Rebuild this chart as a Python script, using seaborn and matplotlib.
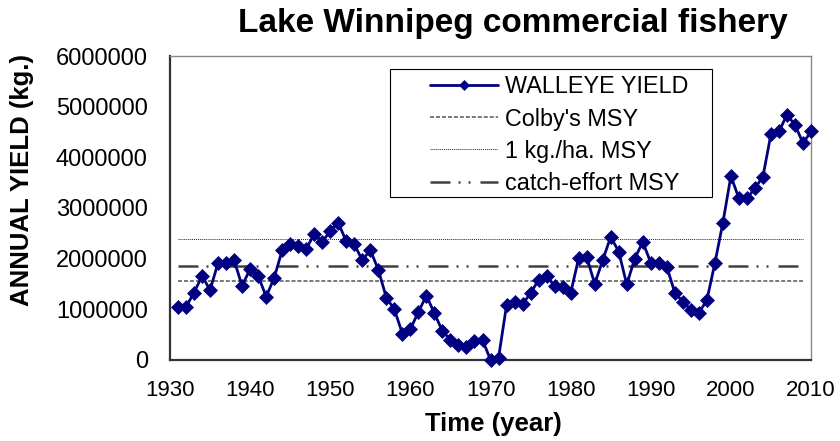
import matplotlib
matplotlib.use("Agg")
import matplotlib.pyplot as plt
from matplotlib.patches import Rectangle
import seaborn as sns
import pandas as pd

# ============================================================
# Data
# ============================================================

years = list(range(1931, 2011))
walleye_yield = [
    1040000, 1050000, 1330000, 1660000, 1380000, 1920000, 1910000, 1970000, 1460000, 1800000,
    1660000, 1250000, 1620000, 2170000, 2290000, 2250000, 2190000, 2490000, 2330000, 2550000,
    2710000, 2340000, 2280000, 1970000, 2170000, 1780000, 1230000, 1000000, 520000, 610000,
    950000, 1270000, 920000, 570000, 400000, 290000, 260000, 370000, 400000, 0,
    40000, 1080000, 1150000, 1100000, 1320000, 1580000, 1660000, 1460000, 1450000, 1320000,
    2010000, 2040000, 1500000, 1970000, 2430000, 2140000, 1490000, 2000000, 2330000, 1920000,
    1920000, 1840000, 1330000, 1150000, 990000, 930000, 1180000, 1910000, 2710000, 3630000,
    3190000, 3190000, 3390000, 3620000, 4460000, 4510000, 4840000, 4640000, 4280000, 4510000,
]

msy_years = [1931, 2009]
colby_msy = 1560000
one_kg_msy = 2380000
catch_effort_msy = 1850000

yield_ticks = [0, 1000000, 2000000, 3000000, 4000000, 5000000, 6000000]
year_ticks = [1930, 1940, 1950, 1960, 1970, 1980, 1990, 2000, 2010]

df = pd.DataFrame({"year": years, "yield": walleye_yield})

# ============================================================
# Style
# ============================================================

sns.set_style("white")
plt.rcParams["font.family"] = ["Liberation Sans", "DejaVu Sans"]
plt.rcParams["lines.scale_dashes"] = False
plt.rcParams["text.color"] = "black"
plt.rcParams["axes.labelcolor"] = "black"
plt.rcParams["xtick.color"] = "black"
plt.rcParams["ytick.color"] = "black"

fig = plt.figure(figsize=(8.4, 4.41), dpi=100)
ax = fig.add_axes([0.2024, 0.1837, 0.7631, 0.6893])

navy = "#000080"

# ============================================================
# Lines
# ============================================================

sns.lineplot(data=df, x="year", y="yield", ax=ax, color=navy, linewidth=2.0,
             marker="D", markersize=7.6, markeredgecolor=navy, markerfacecolor=navy,
             markeredgewidth=0.5, errorbar=None, label="WALLEYE YIELD", zorder=3,
             clip_on=False)

sns.lineplot(x=msy_years, y=[colby_msy] * len(msy_years), ax=ax, color="#555555",
             linewidth=1.1, linestyle=(0, (2.9, 1.4)), label="Colby's MSY", zorder=2)
sns.lineplot(x=msy_years, y=[one_kg_msy] * len(msy_years), ax=ax, color="#222222",
             linewidth=0.7, linestyle=(0, (0.7, 0.7)), label="1 kg./ha. MSY", zorder=2)
sns.lineplot(x=msy_years, y=[catch_effort_msy] * len(msy_years), ax=ax, color="#404040",
             linewidth=1.8, linestyle=(0, (14.4, 5.8, 1.4, 5.8, 1.4, 7.2)),
             label="catch-effort MSY", zorder=2)

# ============================================================
# Axes
# ============================================================

ax.set_xlim(1930, 2010)
ax.set_ylim(0, 6000000)
ax.set_xticks(year_ticks)
ax.set_yticks(yield_ticks)
ax.set_yticklabels([str(v) for v in yield_ticks])

ax.tick_params(axis="x", direction="in", length=5, width=1, color="#333333",
               labelsize=16, pad=14.5)
ax.tick_params(axis="y", direction="in", length=4, width=1, color="#333333",
               labelsize=17, pad=16)

for side in ["left", "bottom"]:
    ax.spines[side].set_color("#333333")
    ax.spines[side].set_linewidth(1.6)
for side in ["top", "right"]:
    ax.spines[side].set_color("#888888")
    ax.spines[side].set_linewidth(1.0)

ax.set_xlabel("Time (year)", fontsize=18.5, fontweight="bold")
ax.set_ylabel("ANNUAL YIELD (kg.)", fontsize=18.5, fontweight="bold")
ax.xaxis.set_label_coords(0.504, -0.17)
ax.yaxis.set_label_coords(-0.212, 0.592)

fig.suptitle("Lake Winnipeg commercial fishery", x=0.611, y=0.927, va="baseline",
             fontsize=24, fontweight="bold")

# ============================================================
# Legend (box drawn separately)
# ============================================================

ax.add_patch(Rectangle((0.343, 0.536), 0.503, 0.421, transform=ax.transAxes,
                       facecolor="white", edgecolor="black", linewidth=0.8, zorder=4))

handles, labels = ax.get_legend_handles_labels()
leg = ax.legend(handles, labels, loc="upper left", bbox_to_anchor=(0.4056, 0.936),
                frameon=False, fontsize=16.8, handlelength=2.9, handletextpad=0.33,
                labelspacing=0.39, borderpad=0, borderaxespad=0, numpoints=1,
                markerscale=0.7)
leg.set_zorder(5)

fig.savefig("out.png", dpi=100, facecolor="white")
